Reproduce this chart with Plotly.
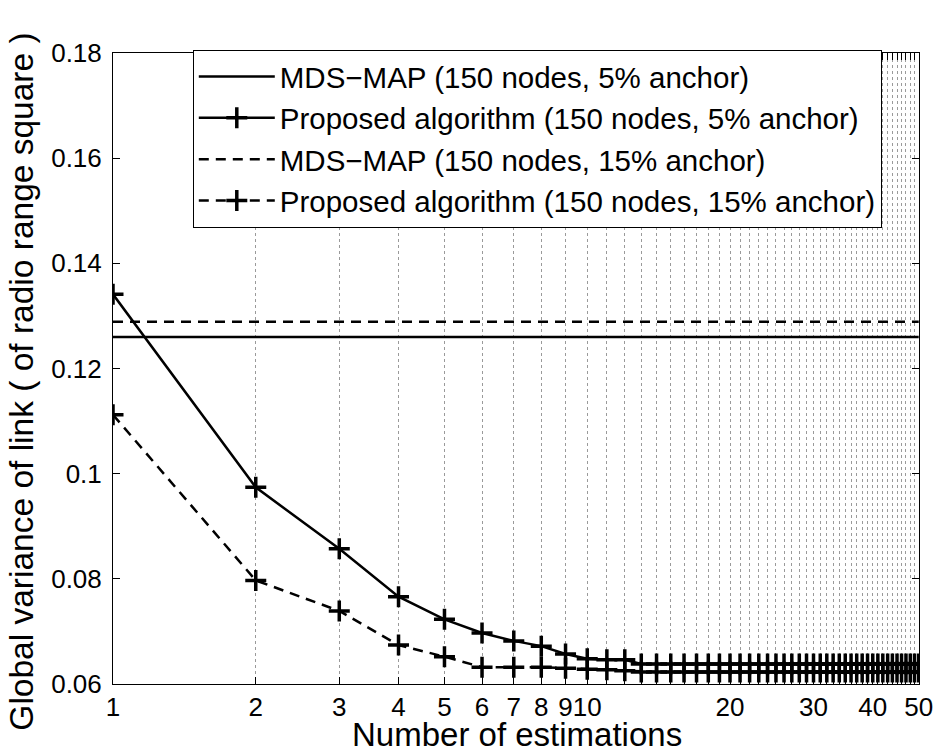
import math
import plotly.graph_objects as go

# ---- data ----
x_est = list(range(1, 51))

prop_5 = [0.1341, 0.0974, 0.0857, 0.0766, 0.0723, 0.0697, 0.0682, 0.0672, 0.0657, 0.0648,
          0.0646, 0.0646, 0.0638, 0.0638, 0.0638, 0.0638, 0.0638, 0.0638, 0.0638, 0.0638,
          0.0638, 0.0638, 0.0638, 0.0638, 0.0638, 0.0638, 0.0638, 0.0638, 0.0638, 0.0638,
          0.0638, 0.0638, 0.0638, 0.0638, 0.0638, 0.0638, 0.0638, 0.0638, 0.0638, 0.0638,
          0.0638, 0.0638, 0.0638, 0.0638, 0.0638, 0.0638, 0.0638, 0.0638, 0.0638, 0.0638]

prop_15 = [0.1112, 0.0797, 0.0739, 0.0674, 0.0652, 0.0632, 0.0632, 0.0632, 0.0630, 0.0628,
           0.0627, 0.0625, 0.0623, 0.0623, 0.0623, 0.0623, 0.0623, 0.0623, 0.0623, 0.0623,
           0.0623, 0.0623, 0.0623, 0.0623, 0.0623, 0.0623, 0.0623, 0.0623, 0.0623, 0.0623,
           0.0623, 0.0623, 0.0623, 0.0623, 0.0623, 0.0623, 0.0623, 0.0623, 0.0623, 0.0623,
           0.0623, 0.0623, 0.0623, 0.0623, 0.0623, 0.0623, 0.0623, 0.0623, 0.0623, 0.0623]

mds_x = [1, 50]
mds_5 = [0.1260, 0.1260]
mds_15 = [0.1289, 0.1289]

names = ["MDS\u2212MAP (150 nodes, 5% anchor)",
         "Proposed algorithm (150 nodes, 5% anchor)",
         "MDS\u2212MAP (150 nodes, 15% anchor)",
         "Proposed algorithm (150 nodes, 15% anchor)"]

x_tick_vals = list(range(1, 51))
x_labelled = {1: "1", 2: "2", 3: "3", 4: "4", 5: "5", 6: "6", 7: "7", 8: "8", 9: "9",
              10: "10", 20: "20", 30: "30", 40: "40", 50: "50"}
x_tick_labels = [x_labelled.get(v, "") for v in x_tick_vals]
y_tick_vals = [0.06, 0.08, 0.10, 0.12, 0.14, 0.16, 0.18]
y_tick_labels = ["0.06", "0.08", "0.1", "0.12", "0.14", "0.16", "0.18"]

FONT = "Liberation Sans, Arial, Helvetica, sans-serif"
DASH = "10px,7px"
mk = dict(symbol="cross-thin", size=15, color="black", line=dict(width=3.5, color="black"))

fig = go.Figure()
fig.add_trace(go.Scatter(x=mds_x, y=mds_5, mode="lines", name=names[0],
                         line=dict(color="black", width=2.5)))
fig.add_trace(go.Scatter(x=x_est, y=prop_5, mode="lines+markers", name=names[1],
                         line=dict(color="black", width=2.5), marker=mk))
fig.add_trace(go.Scatter(x=mds_x, y=mds_15, mode="lines", name=names[2],
                         line=dict(color="black", width=2.5, dash=DASH)))
fig.add_trace(go.Scatter(x=x_est, y=prop_15, mode="lines+markers", name=names[3],
                         line=dict(color="black", width=2.5, dash=DASH), marker=mk))

fig.update_layout(
    width=936, height=756,
    margin=dict(l=113, r=17, t=53, b=72, autoexpand=False),
    paper_bgcolor="white", plot_bgcolor="white",
    font=dict(family=FONT, color="black", size=26),
    showlegend=True,
    legend=dict(x=0.099, y=1.005, xanchor="left", yanchor="top",
                bgcolor="white", bordercolor="black", borderwidth=1,
                font=dict(size=29.5, family=FONT), tracegroupgap=0,
                itemwidth=76),
    annotations=[
        dict(text="Number of estimations", xref="paper", yref="paper",
             x=0.501, y=-0.0808, xanchor="center", yanchor="middle",
             showarrow=False, font=dict(size=33, family=FONT)),
        dict(text="Global variance of link ( of radio range square )", xref="paper", yref="paper",
             x=-0.113, y=0.479, xanchor="center", yanchor="middle", textangle=-90,
             showarrow=False, font=dict(size=33.5, family=FONT)),
    ],
)

fig.update_xaxes(type="log", range=[0, math.log10(50) + 0.0006], tickvals=x_tick_vals,
                 ticktext=x_tick_labels, tickangle=0, ticklabeloverflow="allow",
                 automargin=False,
                 ticks="inside", ticklen=7, tickcolor="black", tickwidth=1,
                 showline=True, linecolor="black", linewidth=1, mirror="allticks",
                 showgrid=True, gridcolor="#9a9a9a", gridwidth=1, griddash="dot",
                 zeroline=False, ticklabelstandoff=0,
                 tickfont=dict(size=26, family=FONT))
fig.update_yaxes(range=[0.06, 0.18], tickvals=y_tick_vals, ticktext=y_tick_labels,
                 automargin=False,
                 ticks="inside", ticklen=7, tickcolor="black", tickwidth=1,
                 showline=True, linecolor="black", linewidth=1, mirror="allticks",
                 showgrid=False, zeroline=False, ticklabelstandoff=5,
                 tickfont=dict(size=26, family=FONT))

fig.write_html("out.html", config={"displayModeBar": False},
               post_script="document.body.style.margin='0px';document.body.style.overflow='hidden';")
